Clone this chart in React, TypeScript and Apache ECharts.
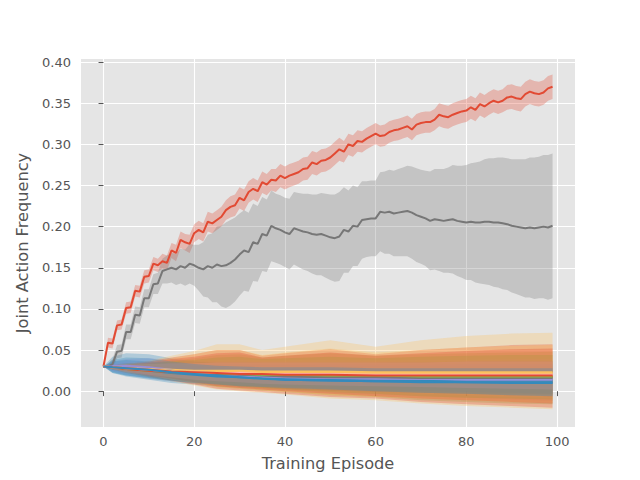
import { useEffect, useRef } from "react";
import * as echarts from "echarts";

const FONT = "'DejaVu Sans', sans-serif";
const TEXT = "#555555";

const xTicks = [0, 20, 40, 60, 80, 100];
const yTicks = [0, 0.05, 0.1, 0.15, 0.2, 0.25, 0.3, 0.35, 0.4];

// full-resolution episodes 0..99
const episodes = Array.from({ length: 100 }, (_, i) => i);

const redMean = [
  0.030, 0.059, 0.058, 0.080, 0.081, 0.101, 0.102, 0.122, 0.121, 0.139,
  0.140, 0.155, 0.153, 0.158, 0.156, 0.171, 0.168, 0.184, 0.181, 0.179,
  0.192, 0.196, 0.193, 0.206, 0.204, 0.208, 0.212, 0.220, 0.224, 0.226,
  0.235, 0.232, 0.242, 0.246, 0.243, 0.254, 0.251, 0.257, 0.256, 0.262,
  0.259, 0.262, 0.264, 0.266, 0.270, 0.271, 0.278, 0.276, 0.280, 0.281,
  0.284, 0.289, 0.294, 0.291, 0.300, 0.298, 0.304, 0.303, 0.307, 0.310,
  0.313, 0.310, 0.311, 0.315, 0.317, 0.318, 0.320, 0.322, 0.318, 0.324,
  0.326, 0.327, 0.327, 0.330, 0.336, 0.334, 0.333, 0.336, 0.338, 0.340,
  0.341, 0.345, 0.342, 0.349, 0.346, 0.350, 0.353, 0.351, 0.353, 0.357,
  0.358, 0.356, 0.355, 0.361, 0.364, 0.362, 0.361, 0.363, 0.368, 0.370,
];
const redSpread = [
  0.000, 0.006, 0.006, 0.006, 0.006, 0.007, 0.007, 0.007, 0.007, 0.008,
  0.008, 0.008, 0.008, 0.009, 0.009, 0.009, 0.010, 0.010, 0.010, 0.011,
  0.011, 0.011, 0.011, 0.012, 0.012, 0.012, 0.012, 0.012, 0.013, 0.013,
  0.013, 0.013, 0.013, 0.013, 0.013, 0.013, 0.013, 0.013, 0.014, 0.014,
  0.014, 0.014, 0.014, 0.014, 0.014, 0.014, 0.014, 0.014, 0.014, 0.014,
  0.014, 0.014, 0.014, 0.013, 0.013, 0.013, 0.013, 0.013, 0.013, 0.013,
  0.013, 0.013, 0.013, 0.013, 0.013, 0.013, 0.013, 0.013, 0.013, 0.013,
  0.013, 0.013, 0.013, 0.013, 0.014, 0.014, 0.014, 0.014, 0.014, 0.014,
  0.014, 0.014, 0.014, 0.014, 0.014, 0.014, 0.014, 0.014, 0.014, 0.015,
  0.015, 0.015, 0.015, 0.015, 0.015, 0.015, 0.015, 0.015, 0.015, 0.015,
];
const grayMean = [
  0.030, 0.030, 0.033, 0.048, 0.049, 0.072, 0.072, 0.093, 0.092, 0.113,
  0.113, 0.130, 0.131, 0.146, 0.148, 0.150, 0.148, 0.152, 0.150, 0.155,
  0.153, 0.150, 0.148, 0.152, 0.150, 0.154, 0.152, 0.153, 0.156, 0.160,
  0.166, 0.171, 0.169, 0.181, 0.179, 0.191, 0.189, 0.201, 0.198, 0.196,
  0.193, 0.191, 0.198, 0.196, 0.194, 0.193, 0.191, 0.190, 0.191, 0.189,
  0.187, 0.186, 0.188, 0.196, 0.194, 0.201, 0.200, 0.208, 0.209, 0.210,
  0.210, 0.218, 0.217, 0.218, 0.216, 0.217, 0.218, 0.219, 0.217, 0.214,
  0.212, 0.210, 0.207, 0.209, 0.208, 0.207, 0.208, 0.209, 0.207, 0.206,
  0.205, 0.206, 0.205, 0.205, 0.206, 0.206, 0.205, 0.205, 0.204, 0.203,
  0.201, 0.200, 0.199, 0.198, 0.199, 0.198, 0.199, 0.200, 0.199, 0.201,
];
const graySpread = [
  0.000, 0.003, 0.006, 0.008, 0.008, 0.009, 0.009, 0.010, 0.010, 0.011,
  0.011, 0.012, 0.013, 0.015, 0.017, 0.018, 0.019, 0.021, 0.022, 0.024,
  0.025, 0.028, 0.033, 0.038, 0.042, 0.046, 0.049, 0.052, 0.052, 0.051,
  0.050, 0.049, 0.048, 0.047, 0.046, 0.045, 0.044, 0.043, 0.042, 0.042,
  0.042, 0.043, 0.044, 0.045, 0.046, 0.047, 0.048, 0.049, 0.050, 0.051,
  0.052, 0.053, 0.054, 0.052, 0.050, 0.049, 0.048, 0.047, 0.046, 0.046,
  0.046, 0.048, 0.050, 0.051, 0.052, 0.053, 0.054, 0.055, 0.056, 0.057,
  0.057, 0.058, 0.060, 0.061, 0.062, 0.063, 0.064, 0.066, 0.067, 0.068,
  0.070, 0.071, 0.073, 0.074, 0.076, 0.077, 0.078, 0.079, 0.080, 0.080,
  0.081, 0.082, 0.083, 0.084, 0.085, 0.086, 0.086, 0.087, 0.088, 0.088,
];

// low-frequency joint actions, read at these episodes
const sampledEpisodes = [0, 2, 5, 10, 15, 20, 25, 30, 35, 40, 50, 60, 70, 80, 90, 99];

const blue1Mean = [0.030, 0.029, 0.028, 0.025, 0.022, 0.020, 0.018, 0.017, 0.016, 0.015, 0.014, 0.014, 0.013, 0.013, 0.013, 0.013];
const blue1Upper = [0.030, 0.042, 0.046, 0.045, 0.040, 0.036, 0.034, 0.033, 0.032, 0.032, 0.031, 0.031, 0.031, 0.031, 0.031, 0.031];
const blue1Lower = [0.030, 0.022, 0.018, 0.014, 0.010, 0.008, 0.006, 0.005, 0.004, 0.003, 0.001, -0.001, -0.002, -0.003, -0.004, -0.005];

const purple2Mean = [0.030, 0.031, 0.031, 0.029, 0.026, 0.024, 0.022, 0.020, 0.019, 0.018, 0.017, 0.016, 0.015, 0.015, 0.015, 0.015];
const purple2Upper = [0.030, 0.036, 0.039, 0.040, 0.038, 0.037, 0.036, 0.036, 0.035, 0.035, 0.035, 0.035, 0.036, 0.036, 0.037, 0.037];
const purple2Lower = [0.030, 0.024, 0.020, 0.016, 0.012, 0.009, 0.006, 0.004, 0.002, 0.001, -0.002, -0.004, -0.006, -0.008, -0.010, -0.012];

const yellow4Mean = [0.030, 0.029, 0.028, 0.027, 0.026, 0.025, 0.025, 0.025, 0.024, 0.024, 0.024, 0.023, 0.023, 0.023, 0.023, 0.023];
const yellow4Upper = [0.030, 0.032, 0.034, 0.037, 0.043, 0.049, 0.057, 0.057, 0.050, 0.054, 0.062, 0.054, 0.062, 0.067, 0.070, 0.071];
const yellow4Lower = [0.030, 0.026, 0.022, 0.017, 0.012, 0.007, 0.002, 0.000, -0.002, -0.004, -0.009, -0.011, -0.015, -0.018, -0.020, -0.022];

const green5Mean = [0.030, 0.029, 0.027, 0.025, 0.023, 0.022, 0.021, 0.020, 0.019, 0.019, 0.018, 0.018, 0.017, 0.017, 0.017, 0.017];
const green5Upper = [0.030, 0.031, 0.032, 0.034, 0.037, 0.040, 0.044, 0.045, 0.041, 0.043, 0.046, 0.043, 0.045, 0.046, 0.047, 0.048];
const green5Lower = [0.030, 0.027, 0.024, 0.019, 0.014, 0.010, 0.005, 0.003, 0.001, -0.001, -0.005, -0.007, -0.011, -0.013, -0.015, -0.016];

const pink6Mean = [0.030, 0.029, 0.028, 0.026, 0.025, 0.024, 0.023, 0.023, 0.022, 0.022, 0.022, 0.021, 0.021, 0.021, 0.021, 0.021];
const pink6Upper = [0.030, 0.031, 0.032, 0.034, 0.035, 0.036, 0.037, 0.038, 0.037, 0.037, 0.038, 0.037, 0.038, 0.038, 0.039, 0.039];
const pink6Lower = [0.030, 0.027, 0.024, 0.020, 0.016, 0.013, 0.010, 0.008, 0.006, 0.004, 0.001, -0.001, -0.003, -0.005, -0.007, -0.008];

const red7Mean = [0.030, 0.029, 0.027, 0.025, 0.023, 0.022, 0.021, 0.021, 0.020, 0.020, 0.019, 0.019, 0.018, 0.018, 0.018, 0.018];
const red7Upper = [0.030, 0.031, 0.033, 0.036, 0.041, 0.045, 0.050, 0.050, 0.043, 0.046, 0.051, 0.045, 0.050, 0.053, 0.056, 0.057];
const red7Lower = [0.030, 0.027, 0.023, 0.018, 0.013, 0.008, 0.003, 0.001, -0.001, -0.003, -0.007, -0.009, -0.013, -0.016, -0.018, -0.020];

const blue8Mean = [0.030, 0.029, 0.028, 0.027, 0.025, 0.023, 0.020, 0.018, 0.016, 0.014, 0.013, 0.012, 0.011, 0.011, 0.010, 0.010];
const blue8Upper = [0.030, 0.036, 0.038, 0.036, 0.034, 0.031, 0.029, 0.028, 0.027, 0.027, 0.027, 0.026, 0.026, 0.025, 0.025, 0.025];
const blue8Lower = [0.030, 0.022, 0.019, 0.016, 0.013, 0.011, 0.009, 0.007, 0.006, 0.005, 0.003, 0.001, 0.000, -0.001, -0.002, -0.003];

const purple9Mean = [0.030, 0.030, 0.030, 0.028, 0.025, 0.023, 0.021, 0.019, 0.018, 0.017, 0.016, 0.015, 0.015, 0.014, 0.014, 0.014];
const purple9Upper = [0.030, 0.034, 0.036, 0.036, 0.034, 0.033, 0.033, 0.033, 0.032, 0.032, 0.032, 0.032, 0.032, 0.033, 0.033, 0.033];
const purple9Lower = [0.030, 0.025, 0.022, 0.019, 0.015, 0.012, 0.009, 0.007, 0.005, 0.004, 0.002, 0.000, -0.002, -0.003, -0.005, -0.006];

const gray10Mean = [0.030, 0.029, 0.028, 0.026, 0.024, 0.022, 0.021, 0.020, 0.019, 0.018, 0.017, 0.017, 0.016, 0.016, 0.016, 0.016];
const gray10Upper = [0.030, 0.032, 0.034, 0.035, 0.035, 0.035, 0.035, 0.035, 0.035, 0.035, 0.035, 0.035, 0.035, 0.036, 0.036, 0.036];
const gray10Lower = [0.030, 0.026, 0.022, 0.017, 0.013, 0.010, 0.008, 0.006, 0.005, 0.003, 0.001, -0.001, -0.002, -0.003, -0.004, -0.004];

const yellow11Mean = [0.030, 0.029, 0.028, 0.027, 0.025, 0.024, 0.024, 0.023, 0.023, 0.023, 0.022, 0.022, 0.022, 0.022, 0.022, 0.022];
const yellow11Upper = [0.030, 0.031, 0.033, 0.035, 0.040, 0.045, 0.050, 0.050, 0.044, 0.047, 0.052, 0.047, 0.050, 0.053, 0.055, 0.056];
const yellow11Lower = [0.030, 0.027, 0.023, 0.019, 0.014, 0.010, 0.005, 0.003, 0.001, -0.001, -0.005, -0.007, -0.009, -0.011, -0.013, -0.014];

const green12Mean = [0.030, 0.029, 0.028, 0.026, 0.024, 0.023, 0.022, 0.021, 0.020, 0.020, 0.019, 0.019, 0.018, 0.018, 0.018, 0.018];
const green12Upper = [0.030, 0.031, 0.032, 0.033, 0.036, 0.038, 0.041, 0.042, 0.039, 0.040, 0.042, 0.040, 0.042, 0.043, 0.044, 0.044];
const green12Lower = [0.030, 0.027, 0.025, 0.021, 0.016, 0.012, 0.008, 0.006, 0.004, 0.002, -0.001, -0.003, -0.006, -0.008, -0.009, -0.010];

const pink13Mean = [0.030, 0.029, 0.028, 0.026, 0.024, 0.023, 0.022, 0.022, 0.021, 0.021, 0.021, 0.020, 0.020, 0.020, 0.020, 0.020];
const pink13Upper = [0.030, 0.031, 0.032, 0.033, 0.034, 0.034, 0.035, 0.035, 0.035, 0.035, 0.035, 0.035, 0.035, 0.036, 0.036, 0.036];
const pink13Lower = [0.030, 0.027, 0.024, 0.020, 0.017, 0.014, 0.012, 0.011, 0.009, 0.008, 0.007, 0.006, 0.005, 0.004, 0.003, 0.002];

const red14Mean = [0.030, 0.029, 0.028, 0.026, 0.024, 0.023, 0.022, 0.021, 0.021, 0.020, 0.020, 0.019, 0.019, 0.019, 0.019, 0.019];
const red14Upper = [0.030, 0.031, 0.032, 0.035, 0.039, 0.042, 0.046, 0.047, 0.041, 0.043, 0.047, 0.043, 0.046, 0.049, 0.051, 0.052];
const red14Lower = [0.030, 0.027, 0.024, 0.019, 0.015, 0.011, 0.006, 0.004, 0.002, 0.000, -0.003, -0.006, -0.009, -0.011, -0.013, -0.015];

const blue15Mean = [0.030, 0.029, 0.028, 0.026, 0.023, 0.021, 0.019, 0.017, 0.015, 0.014, 0.013, 0.012, 0.012, 0.011, 0.011, 0.011];
const blue15Upper = [0.030, 0.038, 0.041, 0.040, 0.036, 0.033, 0.031, 0.030, 0.029, 0.029, 0.029, 0.028, 0.028, 0.028, 0.028, 0.028];
const blue15Lower = [0.030, 0.023, 0.019, 0.015, 0.012, 0.010, 0.008, 0.006, 0.005, 0.004, 0.002, 0.000, -0.002, -0.003, -0.005, -0.006];

const RED = "#E24A33";
const BLUE = "#348ABD";
const PURPLE = "#988ED5";
const GRAY = "#777777";
const YELLOW = "#FBC15E";
const GREEN = "#8EBA42";
const PINK = "#FFB5B8";

function hexToRgba(hex: string, a: number) {
  const n = parseInt(hex.slice(1), 16);
  return `rgba(${(n >> 16) & 255},${(n >> 8) & 255},${n & 255},${a})`;
}

type Curve = { xs: number[]; mean: number[]; lower: number[]; upper: number[]; color: string };

const fromSpread = (mean: number[], spread: number[]) => ({
  lower: mean.map((m, i) => m - spread[i]),
  upper: mean.map((m, i) => m + spread[i]),
});

const S = sampledEpisodes;
const curves: Curve[] = [
  { xs: episodes, mean: redMean, ...fromSpread(redMean, redSpread), color: RED },
  { xs: S, mean: blue1Mean, lower: blue1Lower, upper: blue1Upper, color: BLUE },
  { xs: S, mean: purple2Mean, lower: purple2Lower, upper: purple2Upper, color: PURPLE },
  { xs: episodes, mean: grayMean, ...fromSpread(grayMean, graySpread), color: GRAY },
  { xs: S, mean: yellow4Mean, lower: yellow4Lower, upper: yellow4Upper, color: YELLOW },
  { xs: S, mean: green5Mean, lower: green5Lower, upper: green5Upper, color: GREEN },
  { xs: S, mean: pink6Mean, lower: pink6Lower, upper: pink6Upper, color: PINK },
  { xs: S, mean: red7Mean, lower: red7Lower, upper: red7Upper, color: RED },
  { xs: S, mean: blue8Mean, lower: blue8Lower, upper: blue8Upper, color: BLUE },
  { xs: S, mean: purple9Mean, lower: purple9Lower, upper: purple9Upper, color: PURPLE },
  { xs: S, mean: gray10Mean, lower: gray10Lower, upper: gray10Upper, color: GRAY },
  { xs: S, mean: yellow11Mean, lower: yellow11Lower, upper: yellow11Upper, color: YELLOW },
  { xs: S, mean: green12Mean, lower: green12Lower, upper: green12Upper, color: GREEN },
  { xs: S, mean: pink13Mean, lower: pink13Lower, upper: pink13Upper, color: PINK },
  { xs: S, mean: red14Mean, lower: red14Lower, upper: red14Upper, color: RED },
  { xs: S, mean: blue15Mean, lower: blue15Lower, upper: blue15Upper, color: BLUE },
];

export default function App() {
  const ref = useRef<HTMLDivElement>(null);
  useEffect(() => {
    if (!ref.current) return;
    const chart = echarts.init(ref.current, undefined, { renderer: "svg" });

    const bandSeries = curves.map((c, k) => {
      const data = c.xs.map((x, i) => [x, c.lower[i], c.upper[i]]);
      return {
        type: "custom",
        name: "band" + k,
        silent: true,
        z: 1,
        clip: true,
        data,
        encode: { x: 0, y: [1, 2] },
        renderItem: (params: any, api: any) => {
          if (params.dataIndex !== 0) return null;
          const pts: number[][] = [];
          for (let i = 0; i < data.length; i++) pts.push(api.coord([data[i][0], data[i][2]]));
          for (let i = data.length - 1; i >= 0; i--) pts.push(api.coord([data[i][0], data[i][1]]));
          return {
            type: "polygon",
            shape: { points: pts },
            style: { fill: hexToRgba(c.color, 0.3), stroke: "none" },
          };
        },
      };
    });

    const lineSeries = curves.map((c, k) => ({
      type: "line",
      name: "line" + k,
      silent: true,
      z: 3,
      showSymbol: false,
      symbol: "none",
      data: c.xs.map((x, i) => [x, c.mean[i]]),
      lineStyle: { color: c.color, width: 2 },
      itemStyle: { color: c.color },
    }));

    chart.setOption({
      animation: false,
      backgroundColor: "#ffffff",
      textStyle: { fontFamily: FONT },
      grid: {
        left: 81,
        right: 65,
        top: 59,
        bottom: 53,
        show: true,
        backgroundColor: "#E5E5E5",
        borderWidth: 0,
      },
      xAxis: {
        type: "value",
        min: -4.95,
        max: 103.95,
        splitNumber: 5,
        axisLine: { show: false },
        axisTick: {
          show: true,
          length: 4.9,
          customValues: xTicks,
          lineStyle: { color: TEXT, width: 1 },
        },
        axisLabel: {
          customValues: xTicks,
          color: TEXT,
          fontSize: 13,
          fontFamily: FONT,
          margin: 8,
          formatter: (v: number) => String(Math.round(v)),
        },
        splitLine: { show: true, lineStyle: { color: "#ffffff", width: 1.1 } },
      },
      yAxis: {
        type: "value",
        min: -0.0435,
        max: 0.4037,
        splitNumber: 9,
        axisLine: { show: false },
        axisTick: {
          show: true,
          length: 4.9,
          customValues: yTicks,
          lineStyle: { color: TEXT, width: 1 },
        },
        axisLabel: {
          customValues: yTicks,
          color: TEXT,
          fontSize: 13,
          fontFamily: FONT,
          margin: 10,
          formatter: (v: number) => v.toFixed(2),
        },
        splitLine: { show: true, lineStyle: { color: "#ffffff", width: 1.1 } },
      },
      graphic: [
        {
          type: "text",
          x: 328,
          y: 463.5,
          style: {
            text: "Training Episode",
            fill: TEXT,
            font: `16.2px ${FONT}`,
            textAlign: "center",
            textVerticalAlign: "middle",
          },
        },
        {
          type: "text",
          x: 22.7,
          y: 243,
          rotation: Math.PI / 2,
          style: {
            text: "Joint Action Frequency",
            fill: TEXT,
            font: `16.2px ${FONT}`,
            textAlign: "center",
            textVerticalAlign: "middle",
          },
        },
      ],
      series: [...bandSeries, ...lineSeries],
    });
    return () => chart.dispose();
  }, []);

  return (
    <div
      ref={ref}
      style={{ position: "fixed", left: 0, top: 0, width: 640, height: 480, background: "#fff" }}
    />
  );
}
